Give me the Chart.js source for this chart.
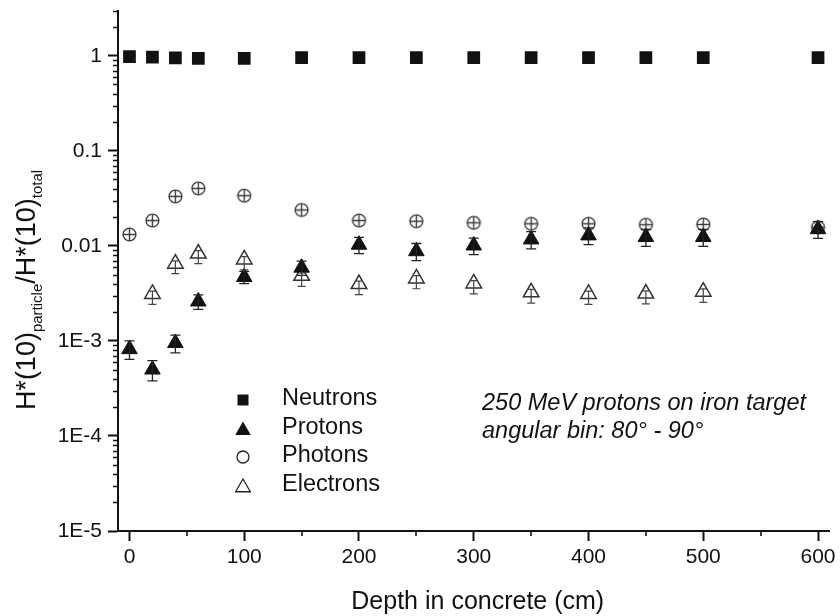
<!DOCTYPE html>
<html><head><meta charset="utf-8">
<script src="https://cdn.jsdelivr.net/npm/chart.js@4"></script>
<style>html,body{margin:0;padding:0;background:#fff}#wrap{width:840px;height:616px;position:relative}</style>
</head><body><div id="wrap"><canvas id="c" width="840" height="616"></canvas></div>
<script>
// ---- data ----
const depth = [0, 20, 40, 60, 100, 150, 200, 250, 300, 350, 400, 450, 500, 600];
const neutrons = [0.98, 0.97, 0.95, 0.94, 0.94, 0.96, 0.96, 0.96, 0.96, 0.96, 0.96, 0.96, 0.96, 0.96];
const protons = [8.2e-4, 5.0e-4, 9.5e-4, 2.6e-3, 4.7e-3, 5.9e-3, 1.03e-2, 8.8e-3, 1.01e-2, 1.17e-2, 1.29e-2, 1.24e-2, 1.24e-2, 1.5e-2];
const protonErr = [1.8e-4, 1.2e-4, 2.0e-4, 4.5e-4, 7e-4, 1.0e-3, 2.0e-3, 1.8e-3, 2.0e-3, 2.4e-3, 2.6e-3, 2.5e-3, 2.5e-3, 3.0e-3];
const photons = [0.0132, 0.0185, 0.0332, 0.0403, 0.0338, 0.0239, 0.0185, 0.0182, 0.0175, 0.0171, 0.0171, 0.0167, 0.0168, 0.0157];
const electronDepth = [20, 40, 60, 100, 150, 200, 250, 300, 350, 400, 450, 500];
const electrons = [3.12e-3, 6.5e-3, 8.3e-3, 7.2e-3, 4.85e-3, 3.97e-3, 4.54e-3, 4.03e-3, 3.25e-3, 3.12e-3, 3.15e-3, 3.3e-3];
const electronErrHigh = [2.2e-4, 4.5e-4, 6e-4, 5e-4, 3.4e-4, 2.8e-4, 3.2e-4, 2.8e-4, 2.3e-4, 2.2e-4, 2.2e-4, 2.3e-4];
const electronErrLow = [7e-4, 1.4e-3, 1.8e-3, 1.6e-3, 1.1e-3, 9e-4, 1.0e-3, 9e-4, 7.5e-4, 7e-4, 7e-4, 7.5e-4];
const xTicks = [0, 100, 200, 300, 400, 500, 600];
const xMinorTicks = [50, 150, 250, 350, 450, 550];
const yTicks = [1e-5, 1e-4, 1e-3, 1e-2, 1e-1, 1];
const yTickLabels = ['1E-5', '1E-4', '1E-3', '0.01', '0.1', '1'];
const seriesNames = ['Neutrons', 'Protons', 'Photons', 'Electrons'];
const noteLines = ['250 MeV protons on iron target', 'angular bin: 80\u00B0 - 90\u00B0'];
const xTitle = 'Depth in concrete (cm)';

const FONT = '"Liberation Sans", Arial, sans-serif';

// photon marker: open circle with a cross
const circlePlus = (() => {
  const c = document.createElement('canvas'); c.width = 17; c.height = 17;
  const g = c.getContext('2d');
  g.strokeStyle = '#3c3c3c'; g.lineWidth = 1.4;
  g.beginPath(); g.arc(8.5, 8.5, 6.4, 0, Math.PI * 2); g.stroke();
  g.beginPath(); g.moveTo(8.5, 2); g.lineTo(8.5, 15); g.moveTo(2, 8.5); g.lineTo(15, 8.5); g.stroke();
  return c;
})();

const pts = (xs, ys) => xs.map((x, i) => ({ x: x, y: ys[i] }));

const decor = {
  id: 'decor',
  afterDatasetsDraw(chart) {
    const ctx = chart.ctx, xs = chart.scales.x, ys = chart.scales.y;
    const bars = (xv, yv, lo, hi, cap, color, lw) => {
      ctx.save(); ctx.strokeStyle = color; ctx.lineWidth = lw;
      xv.forEach((x, i) => {
        const px = xs.getPixelForValue(x);
        const yTop = ys.getPixelForValue(yv[i] + hi[i]);
        const yBot = ys.getPixelForValue(yv[i] - lo[i]);
        ctx.beginPath();
        ctx.moveTo(px, yTop); ctx.lineTo(px, yBot);
        ctx.moveTo(px - cap, yTop); ctx.lineTo(px + cap, yTop);
        ctx.moveTo(px - cap, yBot); ctx.lineTo(px + cap, yBot);
        ctx.stroke();
      });
      ctx.restore();
    };
    bars(depth, protons, protonErr, protonErr, 5, '#222', 1.3);
    bars(electronDepth, electrons, electronErrLow, electronErrHigh, 4, '#444', 1.2);
  },
  afterDraw(chart) {
    const ctx = chart.ctx, xs = chart.scales.x, ys = chart.scales.y, a = chart.chartArea;
    ctx.save();
    // minor ticks
    ctx.strokeStyle = '#111'; ctx.lineWidth = 1.6;
    ctx.beginPath();
    yTicks.forEach(d => {
      for (let m = 2; m <= 9; m++) {
        const v = m * d;
        if (v > ys.max) break;
        const py = Math.round(ys.getPixelForValue(v)) + 0.5;
        ctx.moveTo(a.left - 5, py); ctx.lineTo(a.left, py);
      }
    });
    xMinorTicks.forEach(v => {
      const px = Math.round(xs.getPixelForValue(v));
      ctx.moveTo(px, a.bottom); ctx.lineTo(px, a.bottom + 5);
    });
    ctx.stroke();

    ctx.fillStyle = '#111';
    // x title
    ctx.font = '25px ' + FONT; ctx.textAlign = 'center'; ctx.textBaseline = 'alphabetic';
    ctx.fillText(xTitle, (a.left + a.right) / 2 + 4, 609);

    // y title with subscripts
    ctx.save();
    ctx.translate(35, 290); ctx.rotate(-Math.PI / 2);
    const parts = [['H*(10)', 27, 0], ['particle', 15, 7], ['/H*(10)', 27, 0], ['total', 15, 7]];
    let tw = 0;
    parts.forEach(p => { ctx.font = p[1] + 'px ' + FONT; tw += ctx.measureText(p[0]).width; });
    let cx = -tw / 2; ctx.textAlign = 'left';
    parts.forEach(p => { ctx.font = p[1] + 'px ' + FONT; ctx.fillText(p[0], cx, p[2]); cx += ctx.measureText(p[0]).width; });
    ctx.restore();

    // legend
    const lx = 243, ly0 = 400, dy = 28.5;
    ctx.font = '23.5px ' + FONT; ctx.textAlign = 'left';
    seriesNames.forEach((n, i) => ctx.fillText(n, 282, 405 + i * dy));
    ctx.fillRect(lx - 5.5, ly0 - 5.5, 11, 11);
    const tri = (cx0, cy0, r) => { ctx.beginPath(); ctx.moveTo(cx0, cy0 - r); ctx.lineTo(cx0 + r * 0.866, cy0 + r / 2); ctx.lineTo(cx0 - r * 0.866, cy0 + r / 2); ctx.closePath(); };
    tri(lx, ly0 + dy + 2, 9); ctx.fill();
    ctx.strokeStyle = '#222'; ctx.lineWidth = 1.3;
    ctx.beginPath(); ctx.arc(lx, ly0 + 2 * dy, 6, 0, Math.PI * 2); ctx.stroke();
    tri(lx, ly0 + 3 * dy + 2, 8.5); ctx.stroke();

    // annotation
    ctx.font = 'italic 23.5px ' + FONT;
    ctx.fillText(noteLines[0], 482, 410);
    ctx.fillText(noteLines[1], 482, 438);
    ctx.restore();
  }
};

new Chart(document.getElementById('c'), {
  type: 'scatter',
  data: {
    datasets: [
      { label: seriesNames[0], data: pts(depth, neutrons), pointStyle: 'rect', pointRadius: 9, backgroundColor: '#111', borderWidth: 0 },
      { label: seriesNames[1], data: pts(depth, protons), pointStyle: 'triangle', pointRadius: 9, backgroundColor: '#111', borderColor: '#111', borderWidth: 1 },
      { label: seriesNames[3], data: pts(electronDepth, electrons), pointStyle: 'triangle', pointRadius: 9, backgroundColor: 'rgba(0,0,0,0)', borderColor: '#333', borderWidth: 1.5 },
      { label: seriesNames[2], data: pts(depth, photons), pointStyle: circlePlus, pointRadius: 8 }
    ]
  },
  options: {
    responsive: false, animation: false, events: [],
    layout: { padding: { top: 7, right: 9, left: 0, bottom: 0 } },
    plugins: { legend: { display: false }, tooltip: { enabled: false }, title: { display: false } },
    scales: {
      x: {
        type: 'linear', min: -10, max: 610,
        afterBuildTicks: s => { s.ticks = xTicks.map(v => ({ value: v })); },
        afterFit: s => { s.height = 85; s.paddingLeft = 0; s.paddingRight = 0; },
        ticks: { font: { size: 21, family: FONT }, color: '#111', padding: 4, maxRotation: 0, autoSkip: false },
        grid: { display: true, drawOnChartArea: false, drawTicks: true, tickLength: 10, tickWidth: 2, tickColor: '#111' },
        border: { display: true, width: 2, color: '#111' }
      },
      y: {
        type: 'logarithmic', min: 1e-5, max: 3,
        afterBuildTicks: s => { s.ticks = yTicks.map(v => ({ value: v })); },
        afterFit: s => { s.width = 118; s.paddingTop = 0; s.paddingBottom = 0; },
        ticks: { font: { size: 21, family: FONT }, color: '#111', padding: 6, autoSkip: false,
          callback: (v) => { const i = yTicks.findIndex(t => Math.abs(Math.log10(t) - Math.log10(v)) < 1e-6); return i >= 0 ? yTickLabels[i] : ''; } },
        grid: { display: true, drawOnChartArea: false, drawTicks: true, tickLength: 10, tickWidth: 2, tickColor: '#111' },
        border: { display: true, width: 2, color: '#111' }
      }
    }
  },
  plugins: [decor]
});
</script></body></html>
